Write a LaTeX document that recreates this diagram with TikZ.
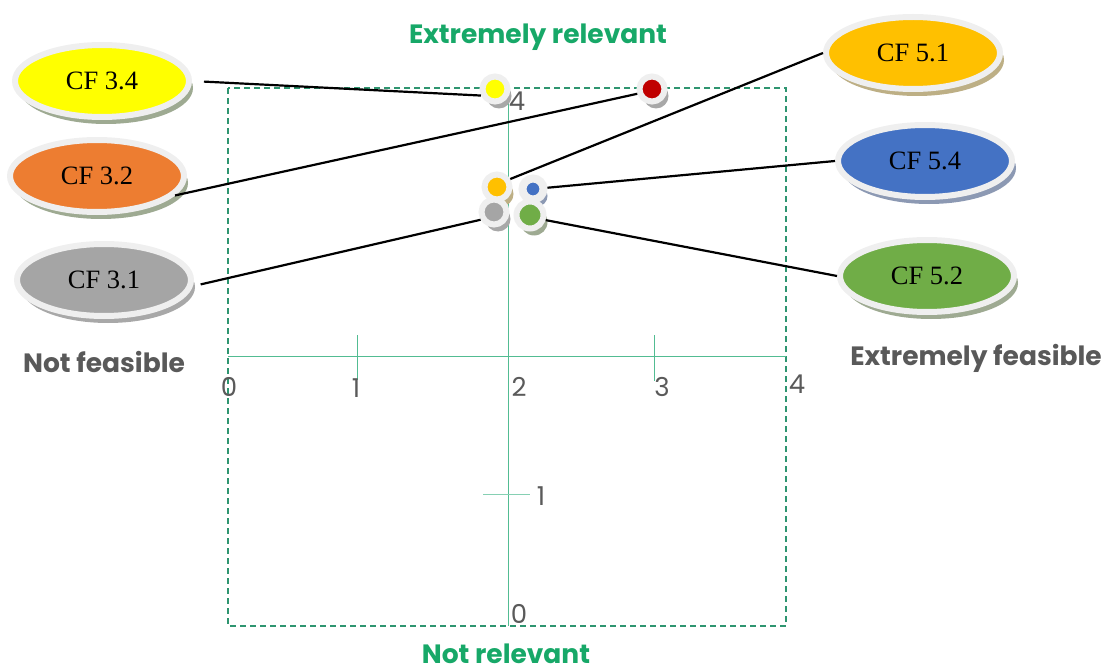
\documentclass[tikz,border=0pt]{standalone}
\usepackage{fontspec}
\setmainfont{Liberation Serif}
\newfontfamily\gothic{Poppins}
\usetikzlibrary{shapes,shadows}

\definecolor{ringgray}{HTML}{EFEFEF}
\definecolor{framegreen}{HTML}{2E9570}
\definecolor{axisgreen}{HTML}{52BC92}
\definecolor{titlegreen}{HTML}{17A868}
\definecolor{labelgray}{HTML}{595959}
\definecolor{numgray}{HTML}{5A5A5A}
\definecolor{cfyellow}{HTML}{FFFF00}
\definecolor{cforange}{HTML}{ED7D31}
\definecolor{cfgray}{HTML}{A5A5A5}
\definecolor{cfgold}{HTML}{FFC000}
\definecolor{cfblue}{HTML}{4472C4}
\definecolor{cfgreen}{HTML}{70AD47}
\definecolor{cfred}{HTML}{C00000}
\definecolor{shadegreen}{HTML}{9EAA92}
\definecolor{shadetan}{HTML}{BDAF85}
\definecolor{shadeblue}{HTML}{8C99B3}
\definecolor{shadegray}{HTML}{A8A8A8}

\tikzstyle{cf_node}=[ellipse,draw=ringgray,line width=6pt,minimum width=174pt,minimum height=72pt,inner sep=0pt,font=\fontsize{26.5}{30}\selectfont]
\tikzstyle{dot}=[circle,draw=ringgray,line width=6pt,minimum size=25pt,inner sep=0pt]
\tikzstyle{link}=[black,line width=2.2pt]
\tikzstyle{tick_num}=[font=\gothic\fontsize{26}{30}\selectfont,text=numgray,inner sep=0pt]
\tikzstyle{side_label}=[font=\gothic\bfseries\fontsize{26.5}{30}\selectfont,inner sep=0pt]
\tikzset{shade_of/.style={drop shadow={fill=#1,opacity=1,shadow xshift=4pt,shadow yshift=-7pt}}}

\begin{document}
\begin{tikzpicture}[x=1pt,y=-1pt]
  \useasboundingbox (0,0) rectangle (1110,671);

  % frame and axes
  \draw[framegreen,line width=1.4pt,dash pattern=on 6pt off 4pt] (228,88) rectangle (786,626);
  \draw[axisgreen,line width=1pt] (228,356) -- (786,356);
  \draw[axisgreen,line width=1pt] (508,92) -- (508,626);
  \draw[axisgreen,line width=0.8pt] (357,335) -- (357,380);
  \draw[axisgreen,line width=0.8pt] (654,335) -- (654,381);
  \draw[axisgreen!70,line width=0.8pt] (483,494) -- (530,494);

  \node[tick_num] (x0) at (229,387) {0};
  \node[tick_num] (x1) at (356,388) {1};
  \node[tick_num] (x2) at (519,387) {2};
  \node[tick_num] (x3) at (662,387) {3};
  \node[tick_num] (x4) at (797,384) {4};
  \node[tick_num] (y4) at (517,101) {4};
  \node[tick_num] (y1) at (541,496) {1};
  \node[tick_num] (y0) at (519,614) {0};

  \node[side_label,text=titlegreen] (rel_hi) at (538,37)  {Extremely relevant};
  \node[side_label,text=titlegreen] (rel_lo) at (506,654) {Not relevant};
  \node[side_label,text=labelgray]  (feas_lo) at (104,362) {Not feasible};
  \node[side_label,text=labelgray]  (feas_hi) at (976,358) {Extremely feasible};

  % factors
  \node[cf_node,fill=cfyellow,shade_of=shadegreen] (cf34) at (102,81)  {CF 3.4};
  \node[cf_node,fill=cforange,shade_of=shadegreen] (cf32) at (97,176)  {CF 3.2};
  \node[cf_node,fill=cfgray,shade_of=shadegray]    (cf31) at (104,280) {CF 3.1};
  \node[cf_node,fill=cfgold,shade_of=shadetan]     (cf51) at (913,53)  {CF 5.1};
  \node[cf_node,fill=cfblue,shade_of=shadeblue]    (cf54) at (925,161) {CF 5.4};
  \node[cf_node,fill=cfgreen,shade_of=shadegreen]  (cf52) at (927,276) {CF 5.2};

  \node[dot,fill=cfyellow,shade_of=shadegray] (d34) at (495,89)  {};
  \node[dot,fill=cfred,shade_of=shadegray]    (d32) at (652,89)  {};
  \node[dot,fill=cfgold,shade_of=shadetan]    (d51) at (497,187) {};
  \node[dot,fill=cfblue,line width=8pt,minimum size=21pt,shade_of=shadeblue] (d54) at (533,189) {};
  \node[dot,fill=cfgray,shade_of=shadegray]   (d31) at (494,212) {};
  \node[dot,fill=cfgreen,minimum size=27pt,shade_of=shadegreen] (d52) at (530,215) {};

  \draw[link,shorten <=12pt] (cf34.east) -- (d34.205);
  \draw[link] (cf32.-14) -- (d32.198);
  \draw[link,shorten <=8pt] (cf31.-4) -- (d31.210);
  \draw[link] (cf51.west) -- (d51.31);
  \draw[link] (cf54.west) -- (d54.5);
  \draw[link] (cf52.west) -- (d52.-18);
\end{tikzpicture}
\end{document}
